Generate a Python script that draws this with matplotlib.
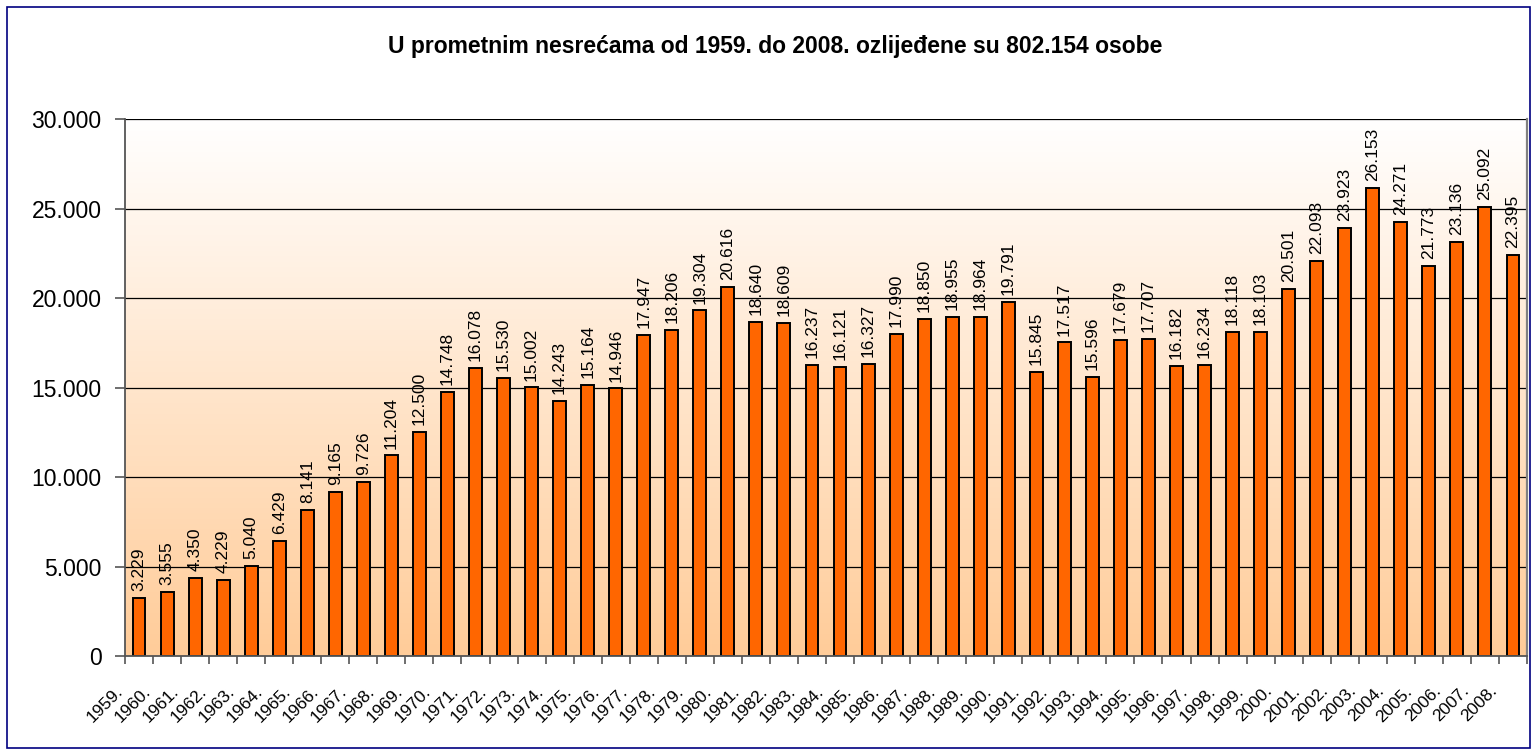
import numpy as np
import matplotlib
matplotlib.use("Agg")
import matplotlib.pyplot as plt
from matplotlib.patches import Rectangle
from matplotlib.colors import LinearSegmentedColormap

years = [f"{y}." for y in range(1959, 2009)]
values = [3229, 3555, 4350, 4229, 5040, 6429, 8141, 9165, 9726, 11204,
          12500, 14748, 16078, 15530, 15002, 14243, 15164, 14946, 17947, 18206,
          19304, 20616, 18640, 18609, 16237, 16121, 16327, 17990, 18850, 18955,
          18964, 19791, 15845, 17517, 15596, 17679, 17707, 16182, 16234, 18118,
          18103, 20501, 22093, 23923, 26153, 24271, 21773, 23136, 25092, 22395]
title = "U prometnim nesrećama od 1959. do 2008. ozlijeđene su 802.154 osobe"
yticks = [0, 5000, 10000, 15000, 20000, 25000, 30000]

def fmt(v):
    return f"{v:,}".replace(",", ".")

FONT = "Liberation Sans"
W, H = 1536, 755
fig = plt.figure(figsize=(W/100, H/100), dpi=100)
fig.patch.set_facecolor("white")
fig.patches.append(Rectangle((7/W, 7/H), (1530-7)/W, (748-7)/H, transform=fig.transFigure,
                             fill=False, edgecolor="#000080", linewidth=1.2))

left, right, top, bottom = 125, 1527, 119, 656
ax = fig.add_axes([left/W, 1-bottom/H, (right-left)/W, (bottom-top)/H])

n = len(values)
x = np.arange(n)
ax.set_xlim(-0.5, n-0.5)
ax.set_ylim(0, 30000)

cmap = LinearSegmentedColormap.from_list("bg", ["#FFCC99", "#FFFFFF"])
grad = np.linspace(0, 1, 256).reshape(-1, 1)
ax.imshow(grad, aspect="auto", cmap=cmap, origin="lower",
          extent=[-0.5, n-0.5, 0, 30000], zorder=0)

for yv in yticks[1:]:
    ax.axhline(yv, color="black", linewidth=0.9, zorder=1)

ax.bar(x, values, width=0.46, color="#FF6600", edgecolor="black", linewidth=1.4, zorder=2)

for xi, v in zip(x, values):
    ax.annotate(fmt(v), xy=(xi, v), xytext=(0, 5), textcoords="offset points",
                rotation=90, ha="center", va="bottom",
                fontsize=12.5, family=FONT, zorder=3)

ax.set_yticks(yticks)
ax.set_yticklabels([fmt(v) for v in yticks], fontsize=16.5, family=FONT)
ax.set_xticks(np.arange(n+1) - 0.5)
ax.set_xticklabels([])
ax.tick_params(axis="x", direction="out", length=6, color="#555555", width=1.2)
ax.tick_params(axis="y", direction="out", length=7, color="#555555", width=1.2, pad=10)

for xi, lab in zip(x, years):
    ax.annotate(lab, xy=(xi, 0), xytext=(-13.5, -23.5), textcoords="offset points",
                rotation=45, ha="right", va="center", rotation_mode="anchor",
                fontsize=12.5, family=FONT, annotation_clip=False)

for s in ["left", "bottom"]:
    ax.spines[s].set_color("#555555")
    ax.spines[s].set_linewidth(1.3)
ax.spines["top"].set_visible(False)
ax.spines["right"].set_color("#808080")
ax.spines["right"].set_linewidth(1.6)

fig.text(775/W, 1-47/H, title, ha="center", va="center", fontsize=16.5,
         fontweight="bold", family=FONT)

fig.savefig("out.png", dpi=100)
